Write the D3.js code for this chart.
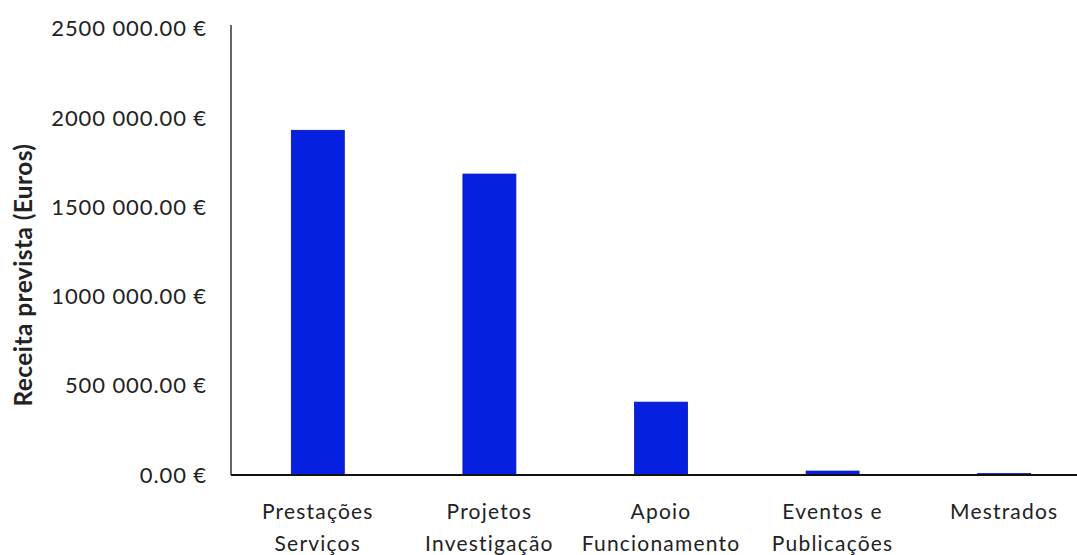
<!DOCTYPE html>
<html><head><meta charset="utf-8">
<script src="https://cdn.jsdelivr.net/npm/d3@7/dist/d3.min.js"></script>
<style>body{margin:0;background:#fff}svg{display:block}</style>
</head><body>
<svg id="c" width="1077" height="555"></svg>
<script>
const categories = [["Prestações","Serviços"],["Projetos","Investigação"],["Apoio","Funcionamento"],["Eventos e","Publicações"],["Mestrados"]];
const values = [1930000, 1685000, 408000, 22000, 8000];
const tickValues = [0, 500000, 1000000, 1500000, 2000000, 2500000];
const tickLabels = ["0.00 €", "500 000.00 €", "1000 000.00 €", "1500 000.00 €", "2000 000.00 €", "2500 000.00 €"];
const yTitle = "Receita prevista (Euros)";

const svg = d3.select("#c");
const font = "Lato, 'Open Sans', sans-serif";
const x = d3.scaleBand().domain(d3.range(categories.length)).range([232, 1090]).padding(0);
const y = d3.scaleLinear().domain([0, 2500000]).range([475, 28.5]);
const bw = 53;

svg.selectAll("rect.bar").data(values).join("rect")
  .attr("class","bar")
  .attr("x",(d,i)=>x(i)+x.bandwidth()/2-bw/2)
  .attr("width",bw)
  .attr("y",d=>y(d))
  .attr("height",d=>y(0)-y(d))
  .attr("fill","#0620e2")
  .attr("stroke","#0616a8").attr("stroke-width",0.8);

svg.append("line").attr("x1",231).attr("x2",231).attr("y1",25).attr("y2",y(0))
  .attr("stroke","#333").attr("stroke-width",1.5);
svg.append("line").attr("x1",231).attr("x2",1077).attr("y1",y(0)).attr("y2",y(0))
  .attr("stroke","#111").attr("stroke-width",1.8);

svg.selectAll("text.yt").data(tickValues).join("text")
  .attr("class","yt")
  .attr("x",207).attr("y",d=>y(d))
  .attr("dy","0.35em")
  .attr("text-anchor","end")
  .attr("font-family",font).attr("font-size",22).attr("letter-spacing","0.9px").attr("fill","#222")
  .text((d,i)=>tickLabels[i]);

const cl = svg.selectAll("text.xc").data(categories).join("text")
  .attr("class","xc")
  .attr("text-anchor","middle")
  .attr("font-family",font).attr("font-size",21).attr("fill","#222")
  .attr("letter-spacing","1.2px");
cl.each(function(d,i){
  const t = d3.select(this);
  d.forEach((line,j)=>{
    t.append("tspan").attr("x",x(i)+x.bandwidth()/2).attr("y",519+j*31.5).text(line);
  });
});

svg.append("text")
  .attr("transform","translate(23,275) rotate(-90)")
  .attr("text-anchor","middle").attr("dy","0.35em")
  .attr("font-family",font).attr("font-weight","bold").attr("font-size",24.5).attr("letter-spacing","0.4px").attr("fill","#222")
  .text(yTitle);
</script>
</body></html>
